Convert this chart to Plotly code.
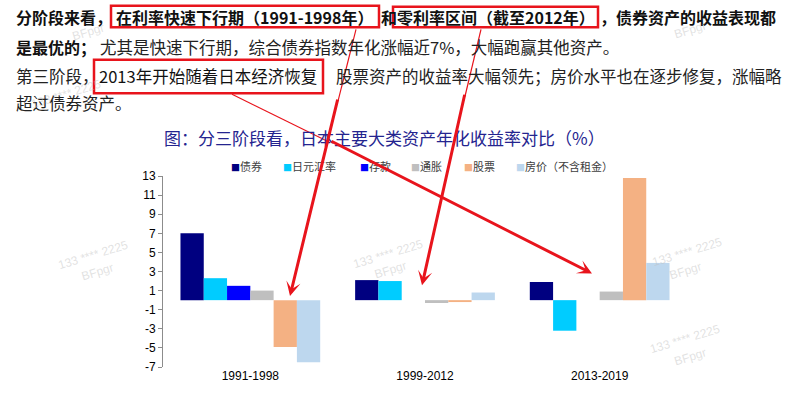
import plotly.graph_objects as go

# ---------------- data ----------------
periods = ["1991-1998", "1999-2012", "2013-2019"]
series_names = ["债券", "日元汇率", "存款", "通胀", "股票", "房价（不含租金）"]
bond = [7.0, 2.1, 1.9]
jpy_fx = [2.3, 2.0, -3.2]
deposit = [1.5, 0.0, 0.0]
inflation = [1.0, -0.3, 0.9]
stocks = [-4.9, -0.2, 12.8]
housing = [-6.5, 0.8, 3.9]
series_values = [bond, jpy_fx, deposit, inflation, stocks, housing]
colors = ["#000080", "#00CCFF", "#0000FF", "#BFBFBF", "#F4B183", "#BDD7EE"]
y_ticks = [-7, -5, -3, -1, 1, 3, 5, 7, 9, 11, 13]

title_text = "图：分三阶段看，日本主要大类资产年化收益率对比（%）"

# ---------------- layout helpers (pixel -> paper) ----------------
L, R, T, B = 163, 687, 176, 370
W, H = R - L, B - T


def px(x):
    return (x - L) / W


def py(y):
    return (B - y) / H


CJK = "Noto Sans CJK SC"
NUM = "Liberation Sans, Arial, Noto Sans CJK SC"

fig = go.Figure()
for name, vals, col in zip(series_names, series_values, colors):
    fig.add_trace(go.Bar(x=periods, y=vals, name=name, marker=dict(color=col, line=dict(width=0)),
                         showlegend=False))

annotations = []
shapes = []

# ---- top paragraph text ----
def seg(x, y, text, bold=False, color="#111111", size=16):
    t = f"<b>{text}</b>" if bold else text
    annotations.append(dict(xref="paper", yref="paper", x=px(x), y=py(y), text=t, showarrow=False,
                            xanchor="left", yanchor="middle",
                            font=dict(family=CJK, size=size, color=color)))

seg(14, 15, "分阶段来看，", bold=True)
seg(114, 15, "在利率快速下行期（1991-1998年）", bold=True)
seg(379, 15, "和", bold=True)
seg(395, 15, "零利率区间（截至2012年）", bold=True)
seg(598, 15, "，债券资产的收益表现都", bold=True)
seg(14, 45, "是最优的；", bold=True)
seg(98, 45, "尤其是快速下行期，综合债券指数年化涨幅近7%，大幅跑赢其他资产。", color="#222222", size=16.5)
seg(14, 74, "第三阶段，", color="#222222", size=16.5)
seg(97, 74, "2013年开始随着日本经济恢复", color="#111111", size=16.5)
seg(334, 74, "股票资产的收益率大幅领先；房价水平也在逐步修复，涨幅略", color="#222222", size=16.5)
seg(14, 102, "超过债券资产。", color="#222222", size=16.5)

# ---- red highlight boxes ----
red = "#E8141C"
for (x0, y0, x1, y1) in [(111, 3, 379, 25), (393, 4, 598, 25), (94, 58, 323, 92)]:
    shapes.append(dict(type="rect", xref="paper", yref="paper", x0=px(x0), x1=px(x1), y0=py(y0), y1=py(y1),
                       line=dict(color=red, width=2.5), fillcolor="rgba(0,0,0,0)", layer="above"))

# ---- chart title ----
annotations.append(dict(xref="paper", yref="paper", x=px(384), y=py(137), text=title_text, showarrow=False,
                        xanchor="center", yanchor="middle",
                        font=dict(family=CJK, size=17, color="#24248F")))

# ---- legend (manual, compact like the original) ----
legend_x = [229, 281, 358, 409, 462, 514]
for name, col, lx in zip(series_names, colors, legend_x):
    annotations.append(dict(xref="paper", yref="paper", x=px(lx), y=py(166),
                            text=f"<span style='color:{col};font-size:9px'>■</span>{name}",
                            showarrow=False, xanchor="left", yanchor="middle",
                            font=dict(family=CJK, size=11, color="#404040")))

# ---- watermarks ----
wm_col = "rgba(190,190,190,0.45)"
for (cx, cy, t) in [(93, 256, "133 **** 2225"), (97, 273, "BFpgr"),
                    (388, 255, "133 **** 2225"), (390, 271, "BFpgr"),
                    (687, 253, "133 **** 2225"), (685, 272, "BFpgr"),
                    (685, 342, "133 **** 2225"), (690, 360, "BFpgr"),
                    (88, 30, "BFpgr"), (690, 28, "BFpgr"), (66, 93, "133 **** 2225")]:
    annotations.append(dict(xref="paper", yref="paper", x=px(cx), y=py(cy), text=t, showarrow=False,
                            textangle=-17, xanchor="center", yanchor="middle",
                            font=dict(family=NUM, size=12, color=wm_col)))

# ---- red arrows (thin start, thick end with head) ----
arrows = [((356, 27), (338, 100), (290, 298)),
          ((481, 27), (465, 95), (422, 287)),
          ((232, 93), (330, 142), (592, 275))]
for (s, m, tip) in arrows:
    shapes.append(dict(type="line", xref="paper", yref="paper", x0=px(s[0]), y0=py(s[1]),
                       x1=px(m[0]), y1=py(m[1]), line=dict(color=red, width=1.2), layer="above"))
    annotations.append(dict(xref="paper", yref="paper", x=px(tip[0]), y=py(tip[1]), text="",
                            showarrow=True, ax=m[0] - tip[0], ay=m[1] - tip[1],
                            arrowhead=3, arrowsize=0.8, arrowwidth=3, arrowcolor=red, standoff=0))

fig.update_layout(
    width=800, height=395,
    margin=dict(l=L, r=800 - R, t=T, b=395 - B),
    paper_bgcolor="white", plot_bgcolor="white",
    barmode="group", bargap=0.2, bargroupgap=0,
    showlegend=False, hovermode=False,
    annotations=annotations, shapes=shapes,
    xaxis=dict(type="category", categoryorder="array", categoryarray=periods,
               showline=False, ticks="", showgrid=False, zeroline=False,
               tickfont=dict(family=NUM, size=12, color="#000000")),
    yaxis=dict(range=[-7, 13], tickmode="array", tickvals=y_ticks, ticktext=[str(v) for v in y_ticks],
               showline=True, linecolor="#8C8C8C", linewidth=1, ticks="outside", ticklen=4,
               tickcolor="#8C8C8C", showgrid=False, zeroline=False,
               tickfont=dict(family=NUM, size=12, color="#000000")),
    xaxis2=dict(overlaying="x", anchor="free", position=7 / 20, range=[-0.5, 2.5],
                tickmode="array", tickvals=[0.5, 1.5, 2.5], ticks="outside", ticklen=4,
                tickcolor="#8C8C8C", showline=True, linecolor="#8C8C8C", linewidth=1.2,
                showticklabels=False, showgrid=False, zeroline=False),
)

fig.write_html("out.html",
               config={"displayModeBar": False, "staticPlot": True},
               post_script="document.body.style.margin='0';document.body.style.padding='0';"
                           "document.body.style.overflow='hidden';")
